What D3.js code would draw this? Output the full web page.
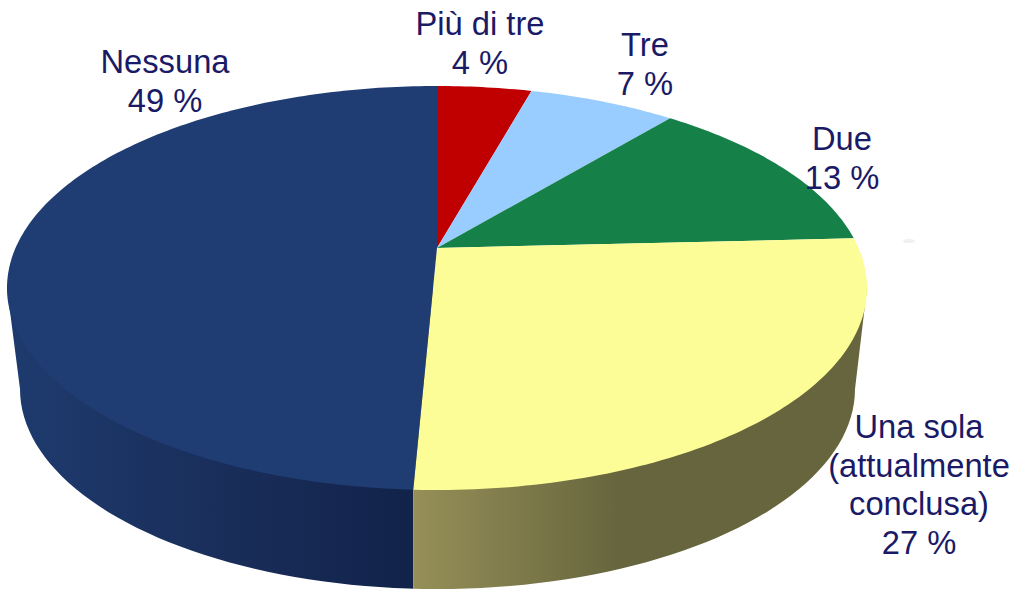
<!DOCTYPE html>
<html><head><meta charset="utf-8">
<style>html,body{margin:0;padding:0;background:#fff}svg{display:block}</style>
<script src="https://cdn.jsdelivr.net/npm/d3@7/dist/d3.min.js"></script>
</head><body><svg id="c" width="1014" height="590"></svg>
<script>
const categories = ["Più di tre","Tre","Due","Una sola (attualmente conclusa)","Nessuna"];
const shares = [4.3,6.7,13.2,26.52,49.28];
const shareLabels = ["4 %","7 %","13 %","27 %","49 %"];
const sliceColors = ["#c00000","#99ccff","#158047","#fdfd97","#1f3c73"];
const labelLines = [["Più di tre"],["Tre"],["Due"],["Una sola","(attualmente","conclusa)"],["Nessuna"]];
const labelCentres = [[480,35],[645,56],[842,150],[919,438],[165,73]];

const W=1014,H=590;
const svg=d3.select("#c");
const x=d3.scaleLinear().domain([-1,1]).range([7,867]);
const y=d3.scaleLinear().domain([-1,1]).range([86,490]);
const yLow=d3.scaleLinear().domain([-1,1]).range([189,589]);
const xLow=d3.scaleLinear().domain([-1,1]).range([20,855]);
const c=40/202, k=Math.sqrt(1-c*c);
// perspective map: disc angle to position on the tilted ellipse
function proj(r,t){const a=r*Math.sin(t),b=-r*Math.cos(t),d=1-b*c;return [x(a*k/d),y((b-c)/d)];}
const pie=d3.pie().sort(null)(shares);
const line=d3.line();
const defs=svg.append("defs");
function grad(id,stops){const g=defs.append("linearGradient").attr("id",id).attr("gradientUnits","userSpaceOnUse")
 .attr("x1",7).attr("x2",867).attr("y1",0).attr("y2",0);
 stops.forEach(s=>g.append("stop").attr("offset",(s[0]-7)/860).attr("stop-color",s[1]));}
const split=proj(1,pie[4].startAngle)[0];
grad("gN",[[7,"#1e3b6e"],[200,"#1a2f5c"],[split,"#12234a"]]);
grad("gY",[[split,"#968f58"],[620,"#66653d"],[867,"#66653d"]]);
defs.append("clipPath").attr("id","cL").append("rect").attr("x",0).attr("y",0).attr("width",split).attr("height",H);
defs.append("clipPath").attr("id","cR").append("rect").attr("x",split).attr("y",0).attr("width",W-split).attr("height",H);
// side wall
const sidePts=[[x(-1),y(0)]].concat(d3.range(0,181,2).map(i=>{const t=Math.PI*(1-i/180);return [xLow(Math.cos(t)),yLow(Math.sin(t))];}),[[x(1),y(0)]]);
svg.append("path").attr("d",line(sidePts)+"Z").attr("fill","url(#gN)").attr("clip-path","url(#cL)");
svg.append("path").attr("d",line(sidePts)+"Z").attr("fill","url(#gY)").attr("clip-path","url(#cR)");
// top face
svg.selectAll("path.s").data(pie).join("path").attr("class","s")
 .attr("fill",(d,i)=>sliceColors[i])
 .attr("d",d=>{const n=Math.max(4,Math.ceil((d.endAngle-d.startAngle)*60));
   const pts=[proj(0,0)];for(let i=0;i<=n;i++)pts.push(proj(1,d.startAngle+(d.endAngle-d.startAngle)*i/n));
   return line(pts)+"Z";});
// faint smudge from the source image
svg.append("ellipse").attr("cx",909).attr("cy",241).attr("rx",6).attr("ry",2).attr("fill","#f0f0f0");
// labels
const lh=[39,39,39,38.5,39];
const g=svg.append("g").attr("font-family","'Liberation Sans',Arial,sans-serif").attr("font-size",32.7).attr("fill","#1a1a66").attr("text-anchor","middle");
categories.forEach((cat,i)=>{const [cx,by]=labelCentres[i];
 labelLines[i].concat(shareLabels[i]).forEach((t,j)=>{g.append("text").attr("x",cx).attr("y",by+j*lh[i]).text(t);});});
</script></body></html>
